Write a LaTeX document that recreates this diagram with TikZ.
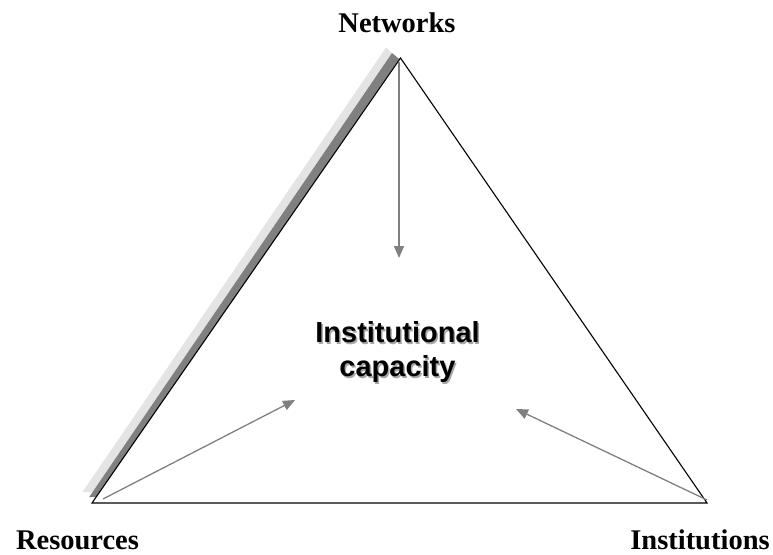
\documentclass[tikz,border=0pt]{standalone}
\usepackage{fontspec}
\setmainfont{Liberation Serif}
\newfontfamily\arialfont{Liberation Sans}
\usetikzlibrary{arrows.meta}
\definecolor{shdark}{HTML}{808080}
\definecolor{shlight}{HTML}{E4E4E4}
\definecolor{arrgray}{HTML}{808080}
\tikzset{
  cornerlabel/.style={anchor=base, inner sep=0pt, font=\fontsize{28.5}{34}\selectfont\bfseries},
  centertext/.style={anchor=base, inner sep=0pt, font=\arialfont\fontsize{29}{34}\selectfont\bfseries},
  flowarrow/.style={draw=arrgray, line width=1.3pt, -{Triangle[length=12pt,width=10pt]}},
  edge/.style={draw=black, line width=1.1pt, line join=miter}
}
\begin{document}
\begin{tikzpicture}[x=1pt,y=-1pt]
\useasboundingbox (0,0) rectangle (773,554);
% vertices
\coordinate (A) at (400.5,58);
\coordinate (B) at (92,503);
\coordinate (C) at (707,503);
% shadow bands on left edge
\fill[shlight] (82.5,492) -- (92.6,492) -- (392,53) -- (386,47.5) -- cycle;
\fill[shdark] (89.2,497) -- (96.2,497) -- (399.2,59) -- (392,53) -- cycle;
% triangle
\draw[edge] (A) -- (B) -- (C) -- cycle;
% labels
\node[cornerlabel] (net) at (397,32) {Networks};
\node[cornerlabel] (res) at (77.5,549) {Resources};
\node[cornerlabel] (ins) at (700,549) {Institutions};
% center text with shadow
\node[centertext, text=black!35] at (399,344.2) {Institutional};
\node[centertext, text=black!35] at (399,378.2) {capacity};
\node[centertext] (cap1) at (397.5,342.7) {Institutional};
\node[centertext] (cap2) at (397.5,376.7) {capacity};
% arrow endpoints
\coordinate (a1s) at (399,62);
\coordinate (a1e) at (399,258);
\coordinate (a2s) at (103,499);
\coordinate (a2e) at (295,400);
\coordinate (a3s) at (707,500);
\coordinate (a3e) at (516,409);
\draw[flowarrow] (a1s) -- (a1e);
\draw[flowarrow] (a2s) -- (a2e);
\draw[flowarrow] (a3s) -- (a3e);
\end{tikzpicture}
\end{document}
